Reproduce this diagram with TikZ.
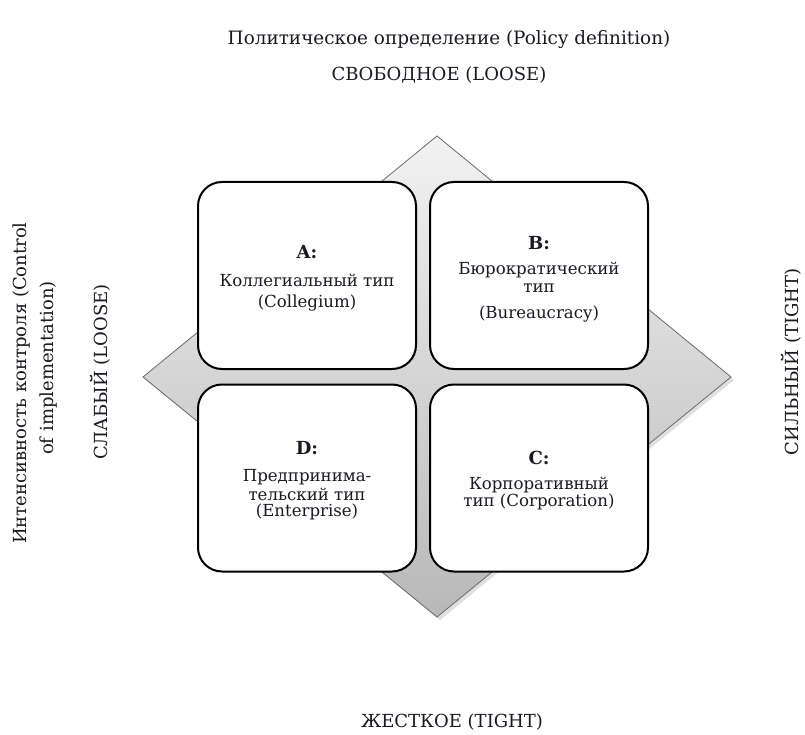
\documentclass[tikz,border=0pt]{standalone}
\usepackage{fontspec}
\setmainfont{DejaVu Serif}
\usetikzlibrary{shadows}
\definecolor{txt}{HTML}{1A1A22}
\definecolor{dtop}{HTML}{F2F2F2}
\definecolor{dbot}{HTML}{B8B8B8}
\definecolor{dedge}{HTML}{6A6A6A}
\begin{document}
\begin{tikzpicture}[x=1pt,y=-1pt,
  quad/.style={draw=black, line width=2pt, rounded corners=24pt, fill=white,
    minimum width=218pt, minimum height=187pt, inner sep=0pt},
  head/.style={font=\fontsize{18.4}{21}\selectfont, text=txt},
  axis/.style={font=\fontsize{18}{21}\selectfont, text=txt},
  tag/.style={font=\bfseries\fontsize{18}{20}\selectfont, text=txt},
  body/.style={font=\fontsize{16.6}{18}\selectfont, text=txt, inner sep=0pt}]
\useasboundingbox (0,0) rectangle (805,735);

% diamond
\coordinate (dt) at (437,136);
\coordinate (dr) at (731,377);
\coordinate (db) at (437,617);
\coordinate (dl) at (143,377);
\fill[black!35, opacity=0.35] ([xshift=3pt,yshift=-3pt]dt) -- ([xshift=3pt,yshift=-3pt]dr) -- ([xshift=3pt,yshift=-3pt]db) -- ([xshift=3pt,yshift=-3pt]dl) -- cycle;
\shade[top color=dtop, bottom color=dbot, draw=dedge, line width=0.8pt] (dt) -- (dr) -- (db) -- (dl) -- cycle;

% boxes
\node[quad] (A) at (307,275.5) {};
\node[quad] (B) at (539,275.5) {};
\node[quad] (D) at (307,478) {};
\node[quad] (C) at (539,478) {};

% box texts
\node[tag] (Aa) at (307,252) {A:};
\node[body] (Ab) at (307,280) {Коллегиальный тип};
\node[body] (Ac) at (307,303) {(Collegium)};

\node[tag] (Ba) at (539,243) {B:};
\node[body] (Bb) at (539,270) {Бюрократический};
\node[body] (Bc) at (539,288) {тип};
\node[body] (Bd) at (539,314) {(Bureaucracy)};

\node[tag] (Da) at (307,448) {D:};
\node[body] (Db) at (307,477) {Предпринима-};
\node[body] (Dc) at (307,494) {тельский тип};
\node[body] (Dd) at (307,512) {(Enterprise)};

\node[tag] (Ca) at (539,458) {C:};
\node[body] (Cb) at (539,485) {Корпоративный};
\node[body] (Cc) at (539,502) {тип (Corporation)};

% axis labels
\node[head] (t1) at (449,40) {Политическое определение (Policy definition)};
\node[axis] (t2) at (439,75) {СВОБОДНОЕ (LOOSE)};
\node[axis] (t3) at (452,722) {ЖЕСТКОЕ (TIGHT)};
\node[axis, rotate=90] (l1) at (22,383) {Интенсивность контроля (Control};
\node[axis, rotate=90] (l2) at (49,368) {of implementation)};
\node[axis, rotate=90] (l3) at (100,372) {СЛАБЫЙ (LOOSE)};
\node[axis, rotate=90] (r1) at (791,362) {СИЛЬНЫЙ (TIGHT)};
\end{tikzpicture}
\end{document}
